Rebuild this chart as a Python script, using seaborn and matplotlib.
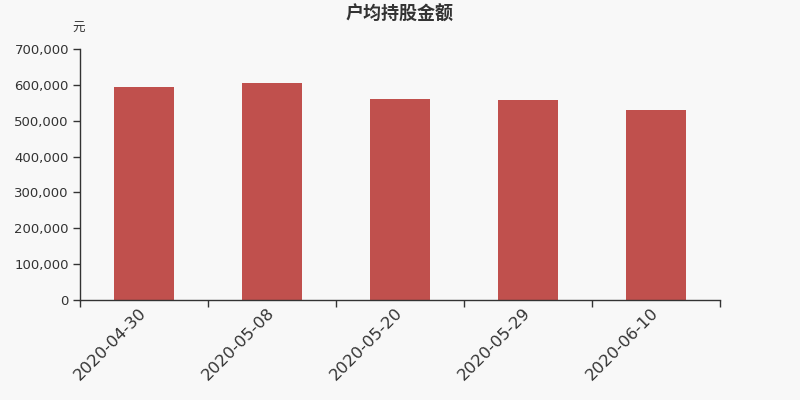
import numpy as np
import pandas as pd
import seaborn as sns
import matplotlib.pyplot as plt
import matplotlib.transforms as mtransforms
from matplotlib.ticker import FuncFormatter, FixedLocator

# 数据
dates = ["2020-04-30", "2020-05-08", "2020-05-20", "2020-05-29", "2020-06-10"]
amounts = [595000, 606000, 561000, 559000, 531000]

df = pd.DataFrame({"date": dates, "amount": amounts})

sns.set_style("white")
plt.rcParams["font.family"] = ["DejaVu Sans", "Noto Sans CJK SC"]

bg = "#f8f8f8"
fig = plt.figure(figsize=(8, 4), dpi=100, facecolor=bg)
ax = fig.add_axes([0.1, 0.25, 0.8, 0.6275])
ax.set_facecolor(bg)

sns.barplot(data=df, x="date", y="amount", color="#c0504d", saturation=1,
            width=0.47, linewidth=0, ax=ax)

ax.set_xlim(-0.5, len(dates) - 0.5)
ax.set_ylim(0, 700000)
ax.set_yticks(np.arange(0, 700001, 100000))
ax.yaxis.set_major_formatter(FuncFormatter(lambda v, p: f"{int(v):,}"))

# 刻度线在分类边界
ax.xaxis.set_minor_locator(FixedLocator(np.arange(-0.5, len(dates), 1.0)))
ax.tick_params(axis="x", which="major", bottom=True, length=0, pad=4)
ax.tick_params(axis="x", which="minor", bottom=True, length=5, width=1,
               color="#333333", direction="out")
ax.tick_params(axis="y", left=True, length=5, width=1, color="#333333",
               direction="out", labelsize=9.5, labelcolor="#333333", pad=3)
ax.set_xticks(range(len(dates)))
ax.set_xticklabels(dates, rotation=45, ha="right", rotation_mode="anchor",
                   fontsize=11.8, color="#333333")
shift = mtransforms.ScaledTranslation(-5 / 100, 0, fig.dpi_scale_trans)
for lbl in ax.get_xticklabels():
    lbl.set_transform(lbl.get_transform() + shift)

for s in ["top", "right"]:
    ax.spines[s].set_visible(False)
for s in ["left", "bottom"]:
    ax.spines[s].set_color("#333333")
    ax.spines[s].set_linewidth(1)

ax.set_xlabel("")
ax.set_ylabel("")

fig.text(0.5, 0.965, "户均持股金额", ha="center", va="center",
         fontsize=13, fontweight="bold", color="#333333",
         family=["Noto Sans CJK SC", "DejaVu Sans"])
fig.text(0.106, 0.928, "元", ha="right", va="center", fontsize=9,
         color="#333333", family=["Noto Sans CJK SC", "DejaVu Sans"])

fig.savefig("out.png", dpi=100, facecolor=bg)
